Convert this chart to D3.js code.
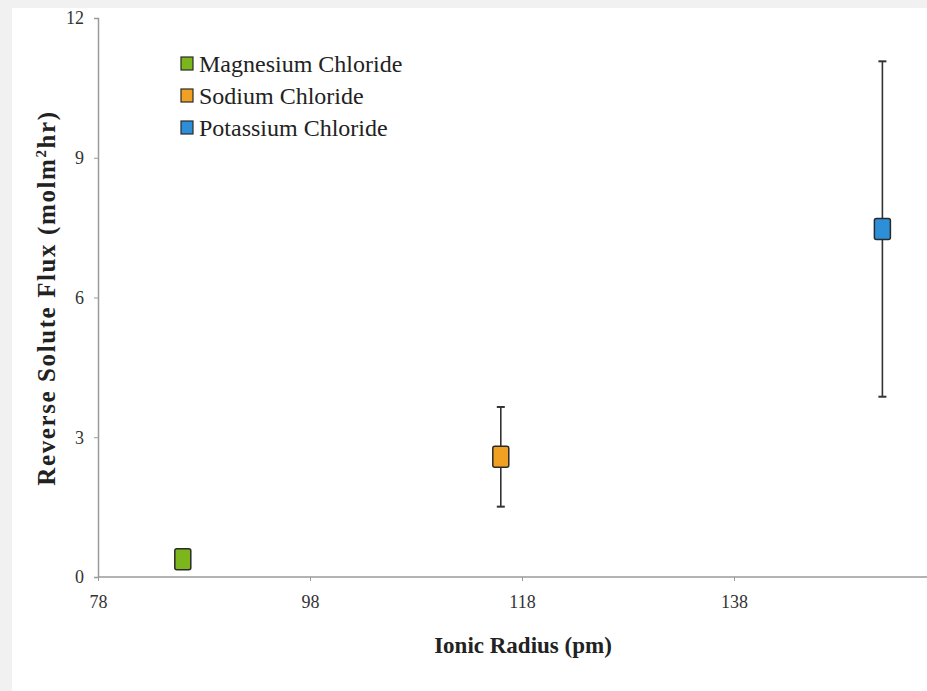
<!DOCTYPE html>
<html>
<head>
<meta charset="utf-8">
<script src="https://cdn.jsdelivr.net/npm/d3@7"></script>
<style>
  body { margin: 0; background: #f1f1f1; }
  #chart { position: absolute; left: 12px; top: 8px; background: #fff; }
  text { font-family: "Liberation Serif", "Times New Roman", serif; }
</style>
</head>
<body>
<svg id="chart"></svg>
<script>
//// DATA
const salts = ["Magnesium Chloride", "Sodium Chloride", "Potassium Chloride"];
const radius = [86, 116, 152];
const flux = [0.38, 2.58, 7.47];
const fluxErr = [0, 1.07, 3.6];
const colors = ["#7cb51c", "#f0a022", "#2e8fd9"];
const xTicks = [78, 98, 118, 138];
const yTicks = [0, 3, 6, 9, 12];

//// SETTINGS
const offX = 12, offY = 8;
const width = 927 - offX;
const height = 691 - offY;
const serif = "'Liberation Serif', 'Times New Roman', serif";

const svg = d3.select("#chart").attr("width", width).attr("height", height);

// scales (page coords minus frame offset)
const x = d3.scaleLinear().domain([78, 158]).range([98 - offX, 946 - offX]);
const y = d3.scaleLinear().domain([0, 12]).range([577 - offY, 18 - offY]);

// y axis
const yAxis = svg.append("g")
    .attr("transform", `translate(${x(78)},0)`)
    .call(d3.axisLeft(y).tickValues(yTicks).tickSize(4).tickPadding(10));
// x axis
const xAxis = svg.append("g")
    .attr("transform", `translate(0,${y(0)})`)
    .call(d3.axisBottom(x).tickValues(xTicks).tickSize(4).tickPadding(14));

[yAxis, xAxis].forEach(function (g) {
    g.attr("font-family", serif).attr("font-size", 18);
    g.select(".domain").attr("stroke", "#9a9a9a").attr("stroke-width", 1.5);
    g.selectAll(".tick line").attr("stroke", "#9a9a9a");
    g.selectAll(".tick text").attr("fill", "#333").style("font-family", serif);
});
xAxis.select(".domain").attr("d", `M${x(78)},0H${x(158)}`);

// axis titles
svg.append("text")
    .attr("x", 523 - offX)
    .attr("y", 653 - offY)
    .attr("text-anchor", "middle")
    .style("font-family", serif)
    .style("font-size", "23px")
    .style("font-weight", "bold")
    .attr("fill", "#222")
    .text("Ionic Radius (pm)");

const yTitle = svg.append("text")
    .attr("transform", `translate(${55 - offX},${298 - offY}) rotate(-90)`)
    .attr("text-anchor", "middle")
    .style("font-family", serif)
    .style("font-size", "25px")
    .style("font-weight", "bold")
    .style("letter-spacing", "1.6px")
    .attr("fill", "#222");
yTitle.append("tspan").text("Reverse Solute Flux (molm");
yTitle.append("tspan").attr("dy", -9).style("font-size", "15px").text("2");
yTitle.append("tspan").attr("dy", 9).text("hr)");

// error bars
const points = salts.map((s, i) => ({ name: s, r: radius[i], f: flux[i], e: fluxErr[i], c: colors[i] }));
const bars = svg.append("g").selectAll("g").data(points.filter(d => d.e > 0)).enter().append("g");
bars.append("line")
    .attr("x1", d => x(d.r)).attr("x2", d => x(d.r))
    .attr("y1", d => y(d.f + d.e)).attr("y2", d => y(d.f - d.e))
    .attr("stroke", "#333").attr("stroke-width", 1.6);
bars.selectAll(".cap").data(d => [[d.r, d.f + d.e], [d.r, d.f - d.e]]).enter().append("line")
    .attr("x1", d => x(d[0]) - 4).attr("x2", d => x(d[0]) + 4)
    .attr("y1", d => y(d[1])).attr("y2", d => y(d[1]))
    .attr("stroke", "#333").attr("stroke-width", 2);

// markers
svg.append("g").selectAll("rect").data(points).enter().append("rect")
    .attr("x", d => x(d.r) - 8)
    .attr("y", d => y(d.f) - 10.5)
    .attr("width", 16)
    .attr("height", 21)
    .attr("rx", 2)
    .attr("fill", d => d.c)
    .attr("stroke", "#2a2a2a")
    .attr("stroke-width", 1.5);

// legend
const legend = svg.append("g").attr("transform", `translate(${181 - offX},${64 - offY})`);
const items = legend.selectAll("g").data(points).enter().append("g")
    .attr("transform", (d, i) => `translate(0,${i * 32})`);
items.append("rect")
    .attr("x", 0).attr("y", -7)
    .attr("width", 12).attr("height", 13)
    .attr("fill", d => d.c)
    .attr("stroke", "#2a2a2a")
    .attr("stroke-width", 1.2);
items.append("text")
    .attr("x", 18).attr("y", 8)
    .style("font-family", serif)
    .style("font-size", "24px")
    .attr("fill", "#222")
    .text(d => d.name);
</script>
</body>
</html>
